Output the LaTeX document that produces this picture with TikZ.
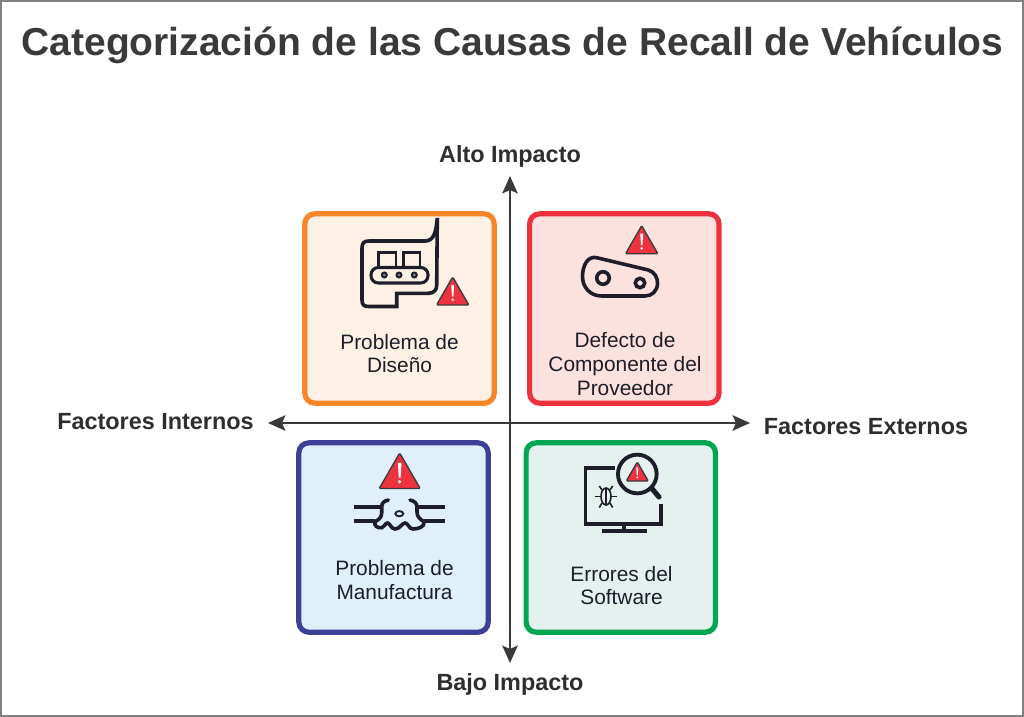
\documentclass[tikz,border=0pt]{standalone}
\usepackage{fontspec}
\usetikzlibrary{arrows.meta}
\setmainfont{Liberation Sans}
\definecolor{ink}{HTML}{1E1E2A}
\definecolor{axiscol}{HTML}{3A3A3C}
\definecolor{warnred}{HTML}{EE3340}
\newcommand{\warnsign}[3]{% apex x, apex y, height
  \draw[warn] (#1,#2) -- ++(-0.577*#3,#3) -- ++(1.154*#3,0) -- cycle;
  \fill[white] (#1-0.05*#3,#2+0.28*#3) -- (#1+0.05*#3,#2+0.28*#3) -- (#1+0.025*#3,#2+0.70*#3) -- (#1-0.025*#3,#2+0.70*#3) -- cycle;
  \fill[white] (#1,#2+0.81*#3) circle (0.05*#3);
}
\begin{document}
\begin{tikzpicture}[x=0.75pt,y=-0.75pt,
  card/.style={draw, rounded corners=7.5pt, line width=3.9pt, minimum width=142pt, minimum height=142pt},
  cardtext/.style={font=\fontsize{15.65pt}{17.7pt}\selectfont, text=ink, align=center},
  axislabel/.style={font=\bfseries\fontsize{17.55pt}{20pt}\selectfont, text=axiscol!80!black},
  axisline/.style={<->, >={Stealth[length=13pt,width=11.5pt,inset=2.5pt]}, draw=axiscol, line width=1.9pt},
  icon/.style={draw=ink, line width=2.7pt},
  warn/.style={draw=axiscol, fill=warnred, line width=1pt, line join=round, rounded corners=0.8pt}]
\useasboundingbox (0,0) rectangle (1024,717);
\draw[draw=gray, line width=1.3pt] (1,1) rectangle (1023,716);
\node[font=\bfseries\fontsize{29.25pt}{34pt}\selectfont, text=axiscol] (title) at (512.5,45.5) {Categorización de las Causas de Recall de Vehículos};

\node[card, draw={rgb,255:red,247;green,134;blue,43}, fill={rgb,255:red,253;green,240;blue,229}] (diseno) at (399.5,308.5) {};
\node[card, draw={rgb,255:red,237;green,50;blue,62}, fill={rgb,255:red,252;green,226;blue,222}] (defecto) at (624.3,308.5) {};
\node[card, draw={rgb,255:red,62;green,64;blue,149}, fill={rgb,255:red,223;green,240;blue,250}] (manufactura) at (393.5,537.5) {};
\node[card, draw={rgb,255:red,0;green,166;blue,81}, fill={rgb,255:red,228;green,241;blue,239}] (software) at (620.8,537.5) {};

\node[cardtext] (disenotext) at (399.5,353.5) {Problema de\\Diseño};
\node[cardtext] (defectotext) at (625,364) {Defecto de\\Componente del\\Proveedor};
\node[cardtext] (manufacturatext) at (394.5,580) {Problema de\\Manufactura};
\node[cardtext] (softwaretext) at (621.5,585.5) {Errores del\\Software};

\node[axislabel] (alto) at (510,156.5) {Alto Impacto};
\node[axislabel] (bajo) at (510,684.5) {Bajo Impacto};
\node[axislabel] (internos) at (155.5,422) {Factores Internos};
\node[axislabel] (externos) at (866,427) {Factores Externos};

\coordinate (top) at (510,176);
\coordinate (bottom) at (510,663);
\coordinate (left) at (268,423);
\coordinate (right) at (750,423);
\draw[axisline] (top) -- (bottom);
\draw[axisline] (left) -- (right);

% conveyor
\draw[icon, line join=miter, miter limit=8] (437.3,218) .. controls (436,232) and (434,241) .. (425,241) -- (369,241)
  .. controls (364,241) and (362,243) .. (362,248) -- (362,300) .. controls (362,305) and (364,306.5) .. (369,306.5)
  -- (396.7,306.5) -- (396.7,293.3) -- (428,293.3) .. controls (434,293.3) and (436.7,290) .. (436.7,285) -- cycle;
\draw[icon, line width=2.1pt] (378.5,267) -- (378.5,252.5) -- (396,252.5) -- (396,267);
\draw[icon, line width=2.1pt] (403.5,267) -- (403.5,252.5) -- (420,252.5) -- (420,267);
\draw[icon, line width=2.3pt, rounded corners=5.5pt] (371,267.5) rectangle (428,283);
\foreach \wx in {384.3,399,414.3} \draw[fill=ink!60, draw=ink, line width=1.4pt] (\wx,275) circle (1.9pt);
\warnsign{452.7}{277}{28}

% chain
\draw[icon] (596.7,257.7) -- (648.3,270) .. controls (655,272) and (657.5,278) .. (657.5,283.3)
  .. controls (657.5,291) and (652,296) .. (645,296) -- (601.7,296)
  .. controls (590,296) and (582.5,287) .. (582.5,276.7) .. controls (582.5,265) and (588,255.7) .. (596.7,257.7) -- cycle;
\draw[icon] (603,278) circle (4.7pt);
\draw[icon] (640,283) circle (3.5pt);
\warnsign{641.7}{225.7}{28}

% pipe
\draw[icon, line width=3pt] (354,506.7) -- (382,506.7);
\draw[icon, line width=3pt] (354,521) -- (375,521);
\draw[icon, line width=3pt] (418,506.7) -- (445,506.7);
\draw[icon, line width=3pt] (424,521) -- (445,521);
\draw[icon, line cap=round] (388.3,500) .. controls (384,501) and (381.7,503) .. (381.7,507) -- (381.7,513) .. controls (381.7,518) and (378,520) .. (375,521.7)
  .. controls (374,526) and (377,528) .. (381.7,527.7) .. controls (385,527) and (385,523) .. (387.5,523) .. controls (390,523) and (391,529) .. (395,529)
  .. controls (400,529) and (402,523) .. (405,523) .. controls (408,523) and (409,529) .. (413,529) .. controls (418,529) and (425,527) .. (424,521.7)
  .. controls (420,519) and (417,517) .. (417,512) -- (417,507) .. controls (417,503) and (414,501) .. (410,500);
\draw[icon, line width=1.4pt] (399.3,513.7) ellipse (4 and 2.6);
\warnsign{399.7}{453}{35.5}

% monitor
\draw[icon, line width=2.6pt] (615,468) -- (585.7,468) -- (585.7,524) -- (661,524) -- (661,503.5);
\draw[icon, line width=2.6pt] (624,524) -- (624,531);
\draw[icon, line width=3.2pt] (601.5,530.7) -- (647,530.7);
\draw[icon, line width=2.9pt] (637.3,474) circle (14.5pt);
\draw[icon, line width=3.8pt, line cap=round] (651.5,488) -- (659,497);
\warnsign{637.3}{462}{19}
\draw[icon, line width=1.2pt] (606,496.5) ellipse (5 and 8.5);
\draw[icon, line width=1.2pt] (606,488) -- (606,505);
\draw[icon, line width=1.2pt] (599.3,486) -- (602,490);
\draw[icon, line width=1.2pt] (612.7,486) -- (610,490);
\draw[icon, line width=1.2pt] (595,496.5) -- (601,496.5);
\draw[icon, line width=1.2pt] (617,496.5) -- (611,496.5);
\draw[icon, line width=1.2pt] (599.3,507.5) -- (602,503);
\draw[icon, line width=1.2pt] (612.7,507.5) -- (610,503);
\end{tikzpicture}
\end{document}
